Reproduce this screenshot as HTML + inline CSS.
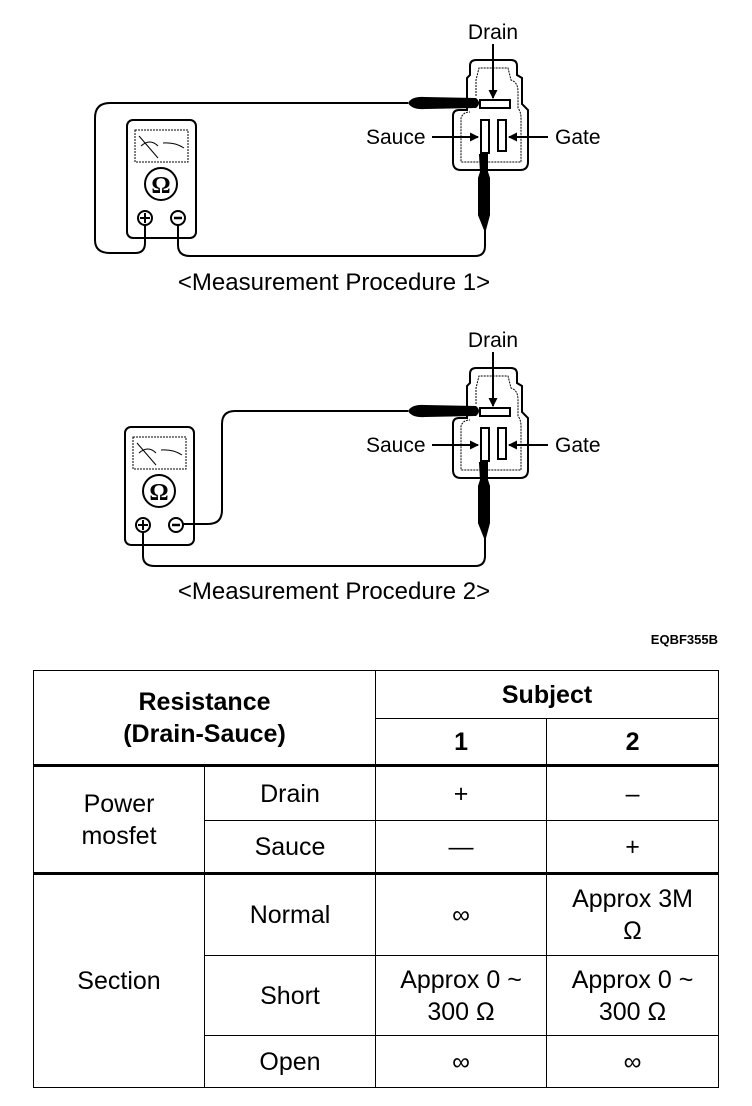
<!DOCTYPE html>
<html><head><meta charset="utf-8"><style>
html,body{margin:0;padding:0;background:#fff}
body{width:752px;height:1106px;position:relative;overflow:hidden;font-family:"Liberation Sans",Arial,sans-serif}
svg{position:absolute;left:0;top:0}
table{position:absolute;left:33px;top:670px;border-collapse:collapse;width:685px;height:418px;table-layout:fixed}
td{border:1.5px solid #000;text-align:center;font-size:25px;padding:0;line-height:32px}
.b{font-weight:bold}
.t{border-top:3px solid #000}
</style></head><body>
<svg width="752" height="1106" viewBox="0 0 752 1106" font-family="Liberation Sans, Arial, sans-serif">
<defs>
<marker id="ah" markerWidth="9" markerHeight="9" refX="8" refY="4.5" orient="auto" markerUnits="userSpaceOnUse"><path d="M0,0 L9,4.5 L0,9 z" fill="#000"/></marker>
<g id="conn">
  <path d="M467,110 L467,78 L470,75 L470,66 Q470,60 476,60 L511,60 Q517,60 517,66 L517,75 L522,78 L522,104 L528,110 L528,162 Q528,170 520,170 L461,170 Q453,170 453,162 L453,116 Q453,110 459,110 Z" fill="none" stroke="#000" stroke-width="2"/>
  <path d="M476,96 L476,80 L479,68 L508,68 L511,80 Q518,82 518,92 L518,108 Q521,112 521,118 L521,162 L461,162 L461,118 Q463,112 470,112" fill="none" stroke="#000" stroke-width="1" stroke-dasharray="2,1"/>
  <rect x="480" y="100" width="30" height="8" fill="#fff" stroke="#000" stroke-width="2"/>
  <rect x="481" y="120" width="8" height="33" fill="#fff" stroke="#000" stroke-width="2"/>
  <rect x="498" y="120" width="8" height="31" fill="#fff" stroke="#000" stroke-width="2"/>
  <text x="493" y="39" font-size="21" text-anchor="middle">Drain</text>
  <line x1="493" y1="44" x2="493" y2="98" stroke="#000" stroke-width="2" marker-end="url(#ah)"/>
  <text x="366" y="144" font-size="21">Sauce</text>
  <line x1="432" y1="137" x2="478" y2="137" stroke="#000" stroke-width="2" marker-end="url(#ah)"/>
  <text x="555" y="144" font-size="21">Gate</text>
  <line x1="548" y1="137" x2="509" y2="137" stroke="#000" stroke-width="2" marker-end="url(#ah)"/>
  <path d="M408,103 Q412,96 425,97 L476,98 Q482,103 476,108 L425,109 Q412,110 408,103 Z" fill="#000"/>
  <path d="M483,154 L483,170 M480,155 L487,155 L487,172 L489,178 L489,215 L485,230 L479,215 L479,178 L481,172 Z" fill="#000" stroke="#000" stroke-width="2"/>
</g>
<g id="meter">
  <rect x="127" y="120" width="69" height="118" rx="6" fill="#fff" stroke="#000" stroke-width="2"/>
  <rect x="135" y="130" width="53" height="32" fill="none" stroke="#000" stroke-width="1" stroke-dasharray="2,1"/>
  <path d="M139,136 L158,158 M141,146 Q150,138 158,146 M163,143 Q175,142 184,148" stroke="#000" stroke-width="1" fill="none"/>
  <circle cx="161" cy="184" r="16" fill="none" stroke="#000" stroke-width="2"/>
  <text x="161" y="193" font-size="24" font-weight="bold" text-anchor="middle" font-family="Liberation Serif, serif">Ω</text>
  <circle cx="145" cy="218" r="7" fill="none" stroke="#000" stroke-width="2"/>
  <path d="M140,218 L150,218 M145,213 L145,223" stroke="#000" stroke-width="2"/>
  <circle cx="178" cy="218" r="7" fill="none" stroke="#000" stroke-width="2"/>
  <path d="M174,218 L182,218" stroke="#000" stroke-width="2.5"/>
</g>
</defs>
<use href="#conn"/>
<use href="#meter"/>
<path d="M408,103 L110,103 Q95,103 95,118 L95,240 Q95,253 110,253 L135,253 Q145,253 145,243 L145,225" fill="none" stroke="#000" stroke-width="2"/>
<path d="M178,225 L178,245 Q178,256 190,256 L475,256 Q485,256 485,246 L485,230" fill="none" stroke="#000" stroke-width="2"/>
<text x="334" y="290" font-size="24" text-anchor="middle">&lt;Measurement Procedure 1&gt;</text>

<g transform="translate(0,308)"><use href="#conn"/></g>
<g transform="translate(-2,307)"><use href="#meter"/></g>
<path d="M408,411 L235,411 Q222,411 222,424 L222,510 Q222,524 208,524 L183,524" fill="none" stroke="#000" stroke-width="2"/>
<path d="M143,532 L143,556 Q143,566 155,566 L475,566 Q485,566 485,556 L485,538" fill="none" stroke="#000" stroke-width="2"/>
<text x="334" y="599" font-size="24" text-anchor="middle">&lt;Measurement Procedure 2&gt;</text>
<text x="718" y="644" font-size="13" font-weight="bold" text-anchor="end">EQBF355B</text>
</svg>
<table>
<colgroup><col style="width:171px"><col style="width:171px"><col style="width:171px"><col style="width:172px"></colgroup>
<tr style="height:48px"><td colspan="2" rowspan="2" class="b">Resistance<br>(Drain-Sauce)</td><td colspan="2" class="b">Subject</td></tr>
<tr style="height:47px"><td class="b">1</td><td class="b">2</td></tr>
<tr style="height:55px"><td rowspan="2" class="t">Power<br>mosfet</td><td class="t">Drain</td><td class="t">+</td><td class="t">–</td></tr>
<tr style="height:53px"><td>Sauce</td><td>—</td><td>+</td></tr>
<tr style="height:82px"><td rowspan="3" class="t">Section</td><td class="t">Normal</td><td class="t">∞</td><td class="t">Approx 3M<br>Ω</td></tr>
<tr style="height:80px"><td>Short</td><td>Approx 0 ~<br>300 Ω</td><td>Approx 0 ~<br>300 Ω</td></tr>
<tr style="height:52px"><td>Open</td><td>∞</td><td>∞</td></tr>
</table>
</body></html>
